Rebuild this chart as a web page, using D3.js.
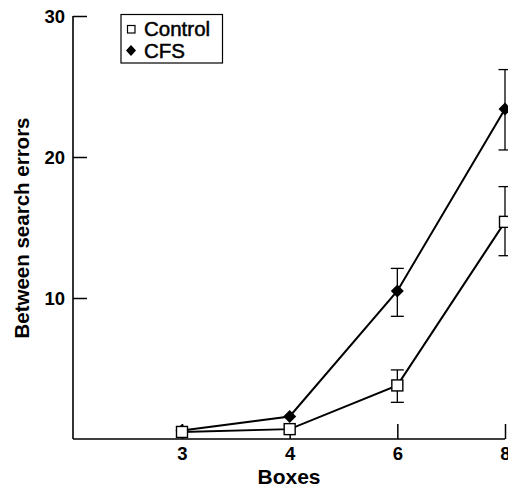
<!DOCTYPE html>
<html><head><meta charset="utf-8">
<script src="https://cdn.jsdelivr.net/npm/d3@7"></script>
<style>
body{margin:0;background:#fff;}
svg{display:block;}
text{font-family:"Liberation Sans",Arial,Helvetica,sans-serif;fill:#000;}
</style></head>
<body><svg id="c" width="508" height="495"></svg>
<script>
const boxes = ["3","4","6","8"];
const controlMean = [0.5, 0.7, 3.8, 15.4];
const controlLow  = [0.5, 0.7, 2.6, 13.0];
const controlHigh = [0.5, 0.7, 4.9, 17.9];
const cfsMean = [0.6, 1.6, 10.5, 23.4];
const cfsLow  = [0.6, 1.6, 8.7, 20.5];
const cfsHigh = [0.6, 1.6, 12.1, 26.2];
const yTicks = [10, 20, 30];
const seriesNames = ["Control", "CFS"];

const svg = d3.select("#c");
const x0 = 73, yBase = 439;
const x = d3.scalePoint().domain(boxes).range([182, 505]);
const y = d3.scaleLinear().domain([0, 30]).range([yBase, 16]);

// axes
const gy = svg.append("g").attr("transform", `translate(${x0},0)`)
  .call(d3.axisLeft(y).tickValues(yTicks).tickSizeInner(-14).tickSizeOuter(0).tickPadding(8).tickFormat(d3.format("d")));
gy.select(".domain").remove();
gy.selectAll(".tick line").attr("stroke", "#000").attr("stroke-width", 1.5);
gy.selectAll(".tick text").style("font-size", "18.5px").style("font-weight", "bold").attr("dy", "0.36em");

const gx = svg.append("g").attr("transform", `translate(0,${yBase})`)
  .call(d3.axisBottom(x).tickSizeInner(-15).tickSizeOuter(0).tickPadding(8));
gx.select(".domain").remove();
gx.selectAll(".tick line").attr("stroke", "#000").attr("stroke-width", 1.5);
gx.selectAll(".tick text").style("font-size", "18.5px").style("font-weight", "bold").attr("dy", "0.71em");

svg.append("line").attr("x1", x0).attr("x2", x0).attr("y1", y(30)).attr("y2", yBase)
  .attr("stroke", "#000").attr("stroke-width", 1.6);
svg.append("line").attr("x1", x0).attr("x2", x(boxes[3])).attr("y1", yBase).attr("y2", yBase)
  .attr("stroke", "#000").attr("stroke-width", 1.6);

// labels
svg.append("text").attr("x", (x0 + x(boxes[3])) / 2).attr("y", 484)
  .attr("text-anchor", "middle").style("font-size", "21px").style("font-weight", "bold").text("Boxes");
svg.append("text").attr("transform", `translate(29,228) rotate(-90)`)
  .attr("text-anchor", "middle").style("font-size", "20.5px").style("font-weight", "bold").text("Between search errors");

function drawSeries(mean, lo, hi, kind) {
  const g = svg.append("g");
  const data = boxes.map((b, i) => ({b, m: mean[i], lo: lo[i], hi: hi[i]}));
  // error bars
  data.forEach(d => {
    if (d.hi - d.lo <= 0) return;
    const cx = x(d.b);
    g.append("line").attr("x1", cx).attr("x2", cx).attr("y1", y(d.lo)).attr("y2", y(d.hi)).attr("stroke", "#000").attr("stroke-width", 1.3);
    [d.lo, d.hi].forEach(v => g.append("line").attr("x1", cx - 6.5).attr("x2", cx + 6.5).attr("y1", y(v)).attr("y2", y(v)).attr("stroke", "#000").attr("stroke-width", 1.3));
  });
  g.append("path").datum(data)
    .attr("d", d3.line().x(d => x(d.b)).y(d => y(d.m)))
    .attr("fill", "none").attr("stroke", "#000").attr("stroke-width", 2);
  data.forEach(d => {
    const cx = x(d.b), cy = y(d.m);
    if (kind === "square") {
      g.append("rect").attr("x", cx - 5.5).attr("y", cy - 5.5).attr("width", 11).attr("height", 11)
        .attr("fill", "#fff").attr("stroke", "#000").attr("stroke-width", 1.4);
    } else {
      g.append("path").attr("d", `M${cx},${cy-6.5}L${cx+6.5},${cy}L${cx},${cy+6.5}L${cx-6.5},${cy}Z`).attr("fill", "#000");
    }
  });
}
drawSeries(cfsMean, cfsLow, cfsHigh, "diamond");
drawSeries(controlMean, controlLow, controlHigh, "square");

// legend
const lg = svg.append("g");
lg.append("rect").attr("x", 121).attr("y", 14.5).attr("width", 101.5).attr("height", 48.5)
  .attr("fill", "#fff").attr("stroke", "#000").attr("stroke-width", 1.2);
lg.append("rect").attr("x", 127.5).attr("y", 25.5).attr("width", 7.5).attr("height", 7.5)
  .attr("fill", "#fff").attr("stroke", "#000").attr("stroke-width", 1.2);
lg.append("path").attr("d", "M131,45L136,50.5L131,56L126,50.5Z").attr("fill", "#000");
lg.append("text").attr("x", 144).attr("y", 35.5).style("font-size", "20.5px").style("stroke", "#000").style("stroke-width", "0.5px").text(seriesNames[0]);
lg.append("text").attr("x", 144).attr("y", 58).style("font-size", "20.5px").style("stroke", "#000").style("stroke-width", "0.5px").text(seriesNames[1]);
</script></body></html>
